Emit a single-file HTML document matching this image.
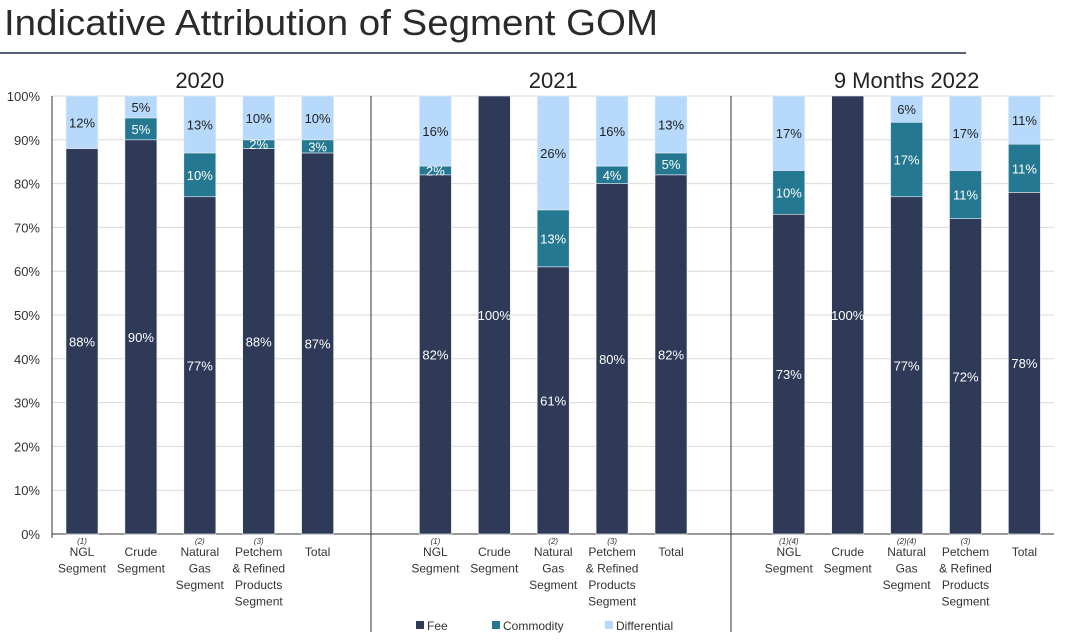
<!DOCTYPE html>
<html><head><meta charset="utf-8"><style>
body{margin:0;background:#fff;width:1069px;height:636px;overflow:hidden;font-family:"Liberation Sans",sans-serif}
</style></head><body>
<svg id="c" width="1069" height="636" xmlns="http://www.w3.org/2000/svg">
<text x="4" y="35" font-size="36" fill="#2a2a2a" font-family="Liberation Sans" textLength="654" lengthAdjust="spacingAndGlyphs">Indicative Attribution of Segment GOM</text>
<line x1="0" y1="53" x2="966" y2="53" stroke="#1f2a4a" stroke-width="1.5"/>
<g id="g"></g>
</svg>
<script>
const groups=["2020","2021","9 Months 2022"];
const categories=["NGL Segment","Crude Segment","Natural Gas Segment","Petchem & Refined Products Segment","Total"];
const notes=[["(1)","","(2)","(3)",""],["(1)","","(2)","(3)",""],["(1)(4)","","(2)(4)","(3)",""]];
const fee=[[88,90,77,88,87],[82,100,61,80,82],[73,100,77,72,78]];
const commodity=[[0,5,10,2,3],[2,0,13,4,5],[10,0,17,11,11]];
const differential=[[12,5,13,10,10],[16,0,26,16,13],[17,0,6,17,11]];
const yTicks=[0,10,20,30,40,50,60,70,80,90,100];
const labelLines=[["NGL","Segment"],["Crude","Segment"],["Natural","Gas","Segment"],["Petchem","& Refined","Products","Segment"],["Total"]];

const NS="http://www.w3.org/2000/svg";
const g=document.getElementById('g');
const y0=534,y1=96,xL=52,xR=1054,step=58.9,x0=82,bw=32;
const Y=v=>y0-(y1-y0)*-v/100;
const X=slot=>x0+slot*step;
function el(t,a){const e=document.createElementNS(NS,t);for(const k in a)e.setAttribute(k,a[k]);g.appendChild(e);return e;}
function txt(x,y,s,size,fill,anchor,extra){const e=el('text',{x:x,y:y,'font-size':size,fill:fill,'text-anchor':anchor||'middle','font-family':'Liberation Sans'});e.textContent=s;if(extra)for(const k in extra)e.setAttribute(k,extra[k]);return e;}

yTicks.forEach(t=>{
  const l=el('line',{x1:xL,x2:xR,y1:Y(t),y2:Y(t),stroke:t?'#d9d9d9':'#333','stroke-width':1});
  
  
  const tt=txt(40,Y(t)+5,t+'%',13,'#333','end');
  
  
});
const ax=el('line',{x1:xL,x2:xL,y1:y1,y2:y0+4,stroke:'#333'});


[371,731].forEach((x,i)=>{
  const d=el('line',{x1:x,x2:x,y1:y1,y2:632,stroke:'#333'});
  
  
});
const cols={fee:'#2e3a58',com:'#247891',dif:'#b7d9fb'};
groups.forEach((gn,gi)=>{
  const gc=(X(gi*6)+X(gi*6+4))/2;
  const gt=txt(gc,88,gn,22,'#222');
  
  
  categories.forEach((c,ci)=>{
    const cx=X(gi*6+ci);
    const f=fee[gi][ci],m=commodity[gi][ci],d=differential[gi][ci];
    const segs=[[0,f,cols.fee,'#fff','fee'],[f,f+m,cols.com,'#fff','commodity'],[f+m,f+m+d,cols.dif,'#222','differential']];
    segs.forEach(s=>{
      if(s[1]<=s[0])return;
      const r=el('rect',{x:cx-bw/2,y:Y(s[1]),width:bw,height:Y(s[0])-Y(s[1]),fill:s[2],stroke:'#e8eef5','stroke-width':0.6});
      
      
      const v=s[1]-s[0];
      const lt=txt(cx,(Y(s[0])+Y(s[1]))/2+5,v+'%',13,s[3]);
      
      
    });
    if(notes[gi][ci]){const n=txt(cx,544,notes[gi][ci],8,'#333','middle',{'font-style':'italic'});
      
      }
    labelLines[ci].forEach((ln,li)=>{
      const t=txt(cx,556+li*16.5,ln,12,'#333');
      
      
    });
  });
});
[['Fee',416,cols.fee],['Commodity',492,cols.com],['Differential',605,cols.dif]].forEach(l=>{
  const r=el('rect',{x:l[1],y:621,width:8,height:8,fill:l[2]});
  
  
  const t=txt(l[1]+11,630,l[0],12,'#333','start');
  
  
});
</script>
</body></html>
